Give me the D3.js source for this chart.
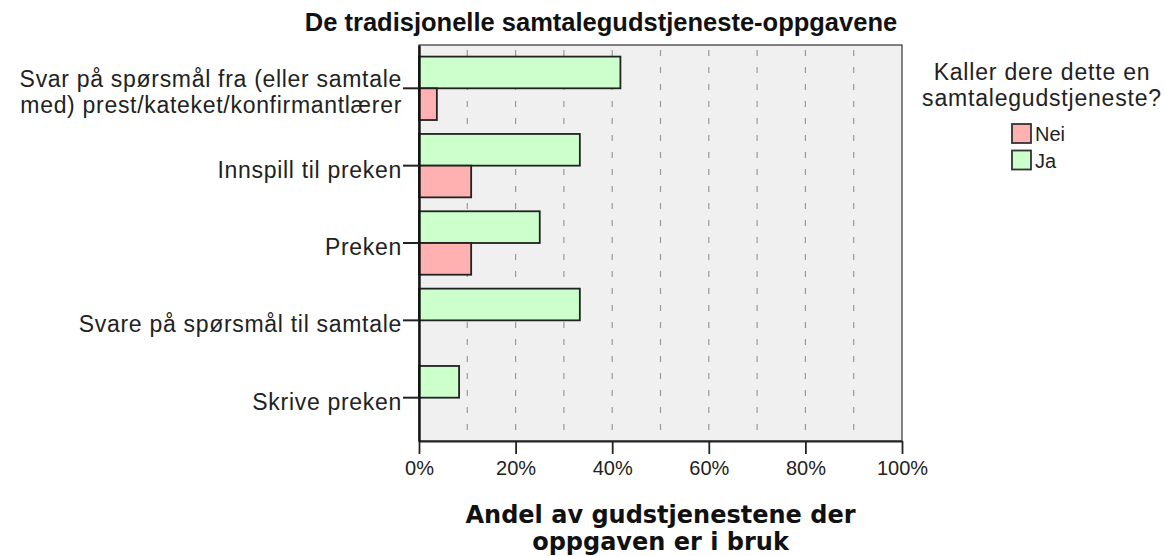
<!DOCTYPE html>
<html>
<head>
<meta charset="utf-8">
<script src="https://cdn.jsdelivr.net/npm/d3@7"></script>
<style>
  body { margin: 0; background: #fff; }
  .lbl { font-family: "Liberation Sans", Arial, sans-serif; fill: #222; }
</style>
</head>
<body>
<div class="chart"></div>
<script>
// Data
var categoryLines = [
  ["Svar på spørsmål fra (eller samtale", "med) prest/kateket/konfirmantlærer"],
  ["Innspill til preken"],
  ["Preken"],
  ["Svare på spørsmål til samtale"],
  ["Skrive preken"]
];
var categories = categoryLines.map(function(l) { return l.join(" "); });
var seriesNames = ["Ja", "Nei"];
var jaValues = [41.7, 33.3, 25.0, 33.3, 8.3];
var neiValues = [3.7, 10.8, 10.8, 0, 0];
var xTicks = [0, 20, 40, 60, 80, 100];
var gridTicks = [10, 20, 30, 40, 50, 60, 70, 80, 90];
var legendTitle = ["Kaller dere dette en", "samtalegudstjeneste?"];
var legendItems = ["Nei", "Ja"];
var chartTitle = "De tradisjonelle samtalegudstjeneste-oppgavene";
var axisTitle = ["Andel av gudstjenestene der", "oppgaven er i bruk"];

var svgWidth = 1164;
var svgHeight = 556;
var plot = { left: 419, right: 902, top: 45, bottom: 441 };

var colors = { "Ja": "#ccffcc", "Nei": "#ffb0b0" };

var svg = d3.select(".chart")
  .append("svg")
  .attr("width", svgWidth)
  .attr("height", svgHeight);

// Scales
var x = d3.scaleLinear()
  .domain([0, 100])
  .range([plot.left, plot.right]);

var y = d3.scaleBand()
  .domain(categories)
  .range([plot.top, plot.bottom])
  .paddingInner(0.18)
  .paddingOuter(0.15);

var ySub = d3.scaleBand()
  .domain(seriesNames)
  .range([0, y.bandwidth()]);

// Plot background + frame
svg.append("rect")
  .attr("x", plot.left)
  .attr("y", plot.top)
  .attr("width", plot.right - plot.left)
  .attr("height", plot.bottom - plot.top)
  .attr("fill", "#f0f0f0")
  .attr("stroke", "#333")
  .attr("stroke-width", 1.2);

// Dashed grid lines
svg.append("g")
  .selectAll("line")
  .data(gridTicks)
  .enter().append("line")
    .attr("x1", function(d) { return x(d); })
    .attr("x2", function(d) { return x(d); })
    .attr("y1", plot.top + 5)
    .attr("y2", plot.bottom)
    .attr("stroke", "#999")
    .attr("stroke-width", 1.2)
    .attr("stroke-dasharray", "6,11");

// Bars
var rows = categories.map(function(c, i) {
  return { cat: c, Ja: jaValues[i], Nei: neiValues[i] };
});

var groups = svg.append("g")
  .selectAll("g")
  .data(rows)
  .enter().append("g")
    .attr("transform", function(d) { return "translate(0," + y(d.cat) + ")"; });

groups.selectAll("rect")
  .data(function(d) {
    return seriesNames.map(function(s) { return { key: s, value: d[s] }; });
  })
  .enter().append("rect")
    .attr("x", x(0))
    .attr("y", function(d) { return ySub(d.key); })
    .attr("width", function(d) { return x(d.value) - x(0); })
    .attr("height", ySub.bandwidth())
    .attr("fill", function(d) { return colors[d.key]; })
    .attr("stroke", function(d) { return d.value > 0 ? "#222" : "none"; })
    .attr("stroke-width", 1.8);

// X axis
var bottomAxis = d3.axisBottom(x)
  .tickValues(xTicks)
  .tickSize(13)
  .tickSizeOuter(0)
  .tickPadding(7)
  .tickFormat(function(d) { return d + "%"; });

var xAxisG = svg.append("g")
  .attr("transform", "translate(0," + plot.bottom + ")")
  .call(bottomAxis);

xAxisG.select(".domain").attr("stroke", "#222").attr("stroke-width", 1.8);
xAxisG.selectAll(".tick line").attr("stroke", "#222").attr("stroke-width", 1.8);
xAxisG.selectAll(".tick text")
  .attr("class", "lbl")
  .style("font-size", "20px")
  .attr("fill", "#222");

// Y axis (ticks only, labels added below)
var leftAxis = d3.axisLeft(y)
  .tickSize(16)
  .tickSizeOuter(0)
  .tickFormat("");

var yAxisG = svg.append("g")
  .attr("transform", "translate(" + plot.left + ",0)")
  .call(leftAxis);

yAxisG.select(".domain").attr("stroke", "#111").attr("stroke-width", 2.4);
yAxisG.selectAll(".tick line").attr("stroke", "#222").attr("stroke-width", 2);

// Category labels, multi-line
var lineH = 26;
svg.append("g")
  .selectAll("text")
  .data(categoryLines)
  .enter().append("text")
    .attr("class", "lbl")
    .attr("text-anchor", "end")
    .style("font-size", "23px")
    .style("letter-spacing", "0.7px")
    .each(function(lines, i) {
      var cy = y(categories[i]) + y.bandwidth() / 2;
      var t = d3.select(this);
      lines.forEach(function(line, j) {
        t.append("tspan")
          .attr("x", plot.left - 17)
          .attr("y", cy + 12 + (j - (lines.length - 1) / 2) * lineH)
          .text(line);
      });
    });

// Title
svg.append("text")
  .attr("x", 601)
  .attr("y", 31)
  .attr("text-anchor", "middle")
  .style("font-family", "'Liberation Sans', Arial, sans-serif")
  .style("font-weight", "bold")
  .style("font-size", "25.5px")
  .attr("fill", "#111")
  .text(chartTitle);

// X axis title
svg.append("text")
  .attr("text-anchor", "middle")
  .style("font-family", "'DejaVu Sans', Verdana, sans-serif")
  .style("font-weight", "bold")
  .style("font-size", "24px")
  .attr("fill", "#111")
  .selectAll("tspan")
  .data(axisTitle)
  .enter().append("tspan")
    .attr("x", (plot.left + plot.right) / 2)
    .attr("y", function(d, i) { return 523 + i * 27; })
    .text(function(d) { return d; });

// Legend
svg.append("text")
  .attr("class", "lbl")
  .attr("text-anchor", "middle")
  .style("font-size", "23px")
  .style("letter-spacing", "0.8px")
  .selectAll("tspan")
  .data(legendTitle)
  .enter().append("tspan")
    .attr("x", 1042)
    .attr("y", function(d, i) { return 80 + i * 26; })
    .text(function(d) { return d; });

var legend = svg.append("g")
  .selectAll("g")
  .data(legendItems)
  .enter().append("g")
    .attr("transform", function(d, i) { return "translate(1012," + (124 + i * 26.5) + ")"; });

legend.append("rect")
  .attr("width", 19)
  .attr("height", 19)
  .attr("fill", function(d) { return colors[d]; })
  .attr("stroke", "#333")
  .attr("stroke-width", 1.8);

legend.append("text")
  .attr("class", "lbl")
  .attr("x", 23)
  .attr("y", 17)
  .style("font-size", "20px")
  .text(function(d) { return d; });
</script>
</body>
</html>
